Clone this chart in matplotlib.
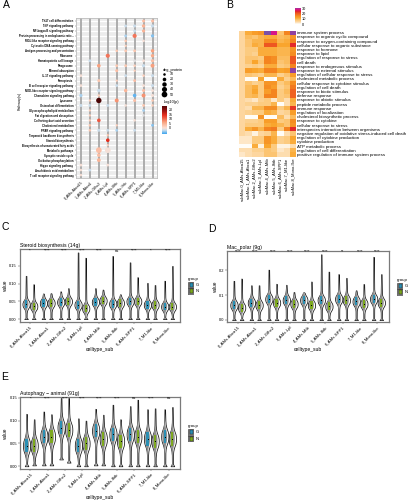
import numpy as np
import matplotlib
matplotlib.use('Agg')
import matplotlib.pyplot as plt
from matplotlib.colors import LinearSegmentedColormap
from matplotlib.patches import Rectangle

plt.rcParams['font.family'] = ['Liberation Sans', 'DejaVu Sans']

W, H = 409, 500

celltypes = ['0_AMs-Abca15', '1_AMs-Abca1', '2_AMs-Gfhc2', '3_AMs-Lpl', '4_AMs-Mtb',
             '5_AMs-Ifitb', '6_AMs-SPP1', '7_M1-like', '8_Mono-like']
sub_labels = ['subMac.' + c for c in celltypes]

pathways = ['Th17 cell differentiation', 'TNF signaling pathway', 'NF-kappa B signaling pathway',
            'Protein processing in endoplasmic retic...', 'RIG-I-like receptor signaling pathway',
            'Cytosolic DNA-sensing pathway', 'Antigen processing and presentation', 'Ribosome',
            'Hematopoietic cell lineage', 'Phagosome', 'Mineral absorption', 'IL-17 signaling pathway',
            'Ferroptosis', 'B cell receptor signaling pathway', 'NOD-like receptor signaling pathway',
            'Chemokine signaling pathway', 'Lysosome', 'Osteoclast differentiation',
            'Glycerophospholipid metabolism', 'Fat digestion and absorption',
            'Collecting duct acid secretion', 'Cholesterol metabolism', 'PPAR signaling pathway',
            'Terpenoid backbone biosynthesis', 'Steroid biosynthesis',
            'Biosynthesis of unsaturated fatty acids', 'Metabolic pathways', 'Synaptic vesicle cycle',
            'Oxidative phosphorylation', 'Hippo signaling pathway', 'Arachidonic acid metabolism',
            'T cell receptor signaling pathway']

# dots: pathway row, celltype col, gene count, signed -log10(p)
dot_row = [0, 0, 1, 1, 1, 1, 2, 2, 3, 3, 3, 4, 4, 5, 6, 6, 6, 6, 7, 7, 8, 8, 8, 8, 9, 9, 9, 9, 9, 9,
           10, 10, 11, 11, 11, 11, 12, 12, 12, 13, 13, 13, 13, 14, 14, 14, 14, 15, 15, 15, 15, 15,
           16, 16, 16, 16, 16, 17, 17, 17, 17, 17, 17, 18, 18, 19, 19, 20, 20, 20, 21, 21, 21,
           22, 22, 22, 22, 22, 23, 24, 25, 26, 26, 27, 28, 29, 29, 30, 30, 31]
dot_col = [7, 8, 5, 6, 7, 8, 6, 7, 5, 6, 8, 5, 7, 5, 4, 5, 6, 8, 3, 8, 1, 6, 7, 8, 2, 4, 5, 6, 7, 8,
           4, 6, 0, 5, 7, 8, 2, 4, 6, 0, 4, 7, 8, 2, 5, 7, 8, 0, 2, 6, 7, 8,
           1, 2, 4, 6, 8, 0, 1, 3, 5, 7, 8, 1, 7, 1, 7, 1, 2, 6, 1, 4, 8,
           1, 2, 3, 4, 6, 3, 3, 3, 2, 3, 2, 2, 0, 3, 0, 1, 0]
dot_size = [14, 14, 12, 14, 18, 16, 12, 16, 12, 26, 16, 10, 10, 8, 10, 12, 12, 18, 26, 18, 12, 12, 12, 16,
            20, 12, 12, 10, 16, 24, 14, 8, 12, 12, 10, 14, 14, 8, 12, 12, 12, 12, 14, 18, 18, 14, 12,
            16, 10, 20, 24, 14, 8, 44, 24, 14, 10, 14, 12, 12, 10, 12, 10, 8, 12, 8, 10, 8, 20, 10,
            10, 8, 12, 10, 14, 12, 12, 12, 8, 20, 8, 50, 50, 20, 22, 12, 12, 10, 12, 10]
dot_val = [3, 3, -3, -3, 4, -3, -3, 4, -4, 9, -5, 2, -1, 1, 2, 2, 2, 6, 9, 5, -3, -2, -1, 3,
           6, 2, 2, 1, -3, 6, 3, 1, -1, -3, 1, -3, 2, 1, 3, -1, -3, -1, -3, -3, 4, 3, -1,
           -4, 1, -6, 7, -1, 1, 25, 7, 3, 2, -3, -3, -3, -1, 2, 1, 1, -4, 1, -2, 1, 11, -1,
           2, 1, -5, 2, -3, -3, -4, -3, 2, 14, 1, 3, -1, 3, 4, -1, -1, -1, -3, -1]
size_levels = [10, 20, 30, 40, 50]

go_terms = ['immune system process', 'response to organic cyclic compound',
            'response to oxygen-containing compound', 'cellular response to organic substance',
            'response to hormone', 'response to lipid', 'regulation of response to stress', 'cell death',
            'response to endogenous stimulus', 'response to external stimulus',
            'regulation of cellular response to stress', 'cholesterol metabolic process',
            'cellular response to cytokine stimulus', 'regulation of cell death',
            'response to biotic stimulus', 'defense response', 'response to abiotic stimulus',
            'peptide metabolic process', 'immune response', 'regulation of localization',
            'cholesterol biosynthetic process', 'response to cytokine', 'cellular response to stress',
            'interspecies interaction between organisms',
            'negative regulation of oxidative stress-induced cell death',
            'regulation of cytokine production', 'cytokine production', 'ATP metabolic process',
            'regulation of cell differentiation', 'positive regulation of immune system process']
go_values = [[4, 10, 12, 13, 30, 26, 7, 15, 29],
             [4, 8, 7, 9, 10, 10, 8, 9, 13],
             [4, 7, 9, 9, 14, 14, 9, 10, 15],
             [4, 7, 10, 9, 19, 19, 11, 11, 22],
             [4, 6, 6, 10, 10, 10, 9, 9, 13],
             [4, 6, 5, 10, 10, 10, 9, 9, 14],
             [4, 7, 7, 6, 15, 14, 8, 8, 19],
             [4, 7, 11, 7, 15, 14, 7, 8, 19],
             [4, 5, 6, 5, 10, 10, 6, 7, 15],
             [4, 12, 11, 10, 15, 15, 11, 12, 29],
             [4, 7, 6, 5, 9, 9, 5, 7, 12],
             [4, 0, 0, 11, 0, 0, 10, 5, 8],
             [4, 7, 5, 6, 13, 13, 6, 8, 14],
             [4, 8, 10, 6, 14, 12, 5, 7, 16],
             [4, 8, 11, 6, 12, 15, 6, 8, 18],
             [4, 8, 9, 6, 15, 15, 6, 7, 18],
             [4, 3, 2, 5, 6, 2, 6, 3, 10],
             [4, 5, 5, 6, 6, 9, 0, 3, 9],
             [4, 3, 9, 9, 14, 14, 6, 9, 21],
             [4, 5, 6, 6, 10, 9, 4, 5, 12],
             [4, 0, 0, 13, 0, 0, 8, 3, 8],
             [4, 5, 5, 6, 12, 12, 6, 7, 14],
             [4, 6, 6, 6, 10, 11, 9, 7, 13],
             [4, 10, 13, 9, 15, 16, 6, 15, 22],
             [4, 3, 1, 4, 5, 9, 0, 3, 7],
             [2, 2, 6, 6, 13, 10, 5, 6, 11],
             [2, 2, 6, 6, 13, 10, 5, 6, 10],
             [0, 0, 10, 1, 11, 6, 1, 1, 3],
             [3, 3, 5, 5, 7, 6, 2, 3, 9],
             [2, 3, 4, 4, 7, 7, 3, 3, 10]]

# violins: G then N for every celltype
c_top = [.122, .098, .072, .073, .078, .087, .188, .173, .087, .083, .178, .07, .16, .118, .102, .096, .108, .15]
c_med = [.042, .036, .045, .045, .048, .05, .04, .03, .048, .052, .043, .045, .05, .05, .04, .04, .035, .035]
c_bot = [0] * 18
c_sig = ['*', '****', '****', '****', '****', 'ns', '****', '*', '****']

d_top = [.158, .167, .14, .14, .203, .146, .142, .113, .112, .155, .265, .195, .185, .17, .12, .145, .255, .185]
d_med = [.06, .05, .07, .06, .085, .07, .08, .065, .08, .06, .08, .055, .085, .08, .075, .065, .085, .07]
d_bot = [0] * 18
d_sig = ['****', '****', '****', '****', '****', '****', '**', '****', '****']

e_top = [.115, .103, .12, .114, .15, .15, .105, .1, .126, .113, .135, .103, .132, .146, .125, .127, .125, .13]
e_med = [.045, .045, .065, .065, .085, .08, .045, .05, .078, .06, .07, .055, .07, .065, .06, .055, .065, .06]
e_bot = [0, .002, .002, .002, .015, .008, 0, 0, .002, .002, 0, 0, 0, 0, 0, 0, 0, 0]
e_sig = ['*', '****', '****', '****', '****', '****', 'ns', '****', 'ns']

group_colors = ['#2b8fb3', '#7da81f']

# width of the violin going away from the median, in steps of the panel's spread
bulge_steps = [0, .5, 1, 1.5, 2, 2.6, 3.4]
bulge_width = [1, .97, .85, .62, .4, .24, .16]


def px_axes(x0, y0, x1, y1):
    return fig.add_axes([x0 / W, 1 - y1 / H, (x1 - x0) / W, (y1 - y0) / H])


def violin(ax, x, bot, med, top, spread, half, color):
    up = [med + s * spread for s in bulge_steps if med + s * spread < top]
    dn = [med - s * spread for s in bulge_steps if med - s * spread > bot]
    ys = np.array(dn[::-1] + up[1:] + [top])
    ws = np.array(bulge_width[:len(dn)][::-1] + bulge_width[1:len(up)] + [.08])
    ys = np.concatenate([[bot, bot + spread * .5], ys])
    ws = np.concatenate([[.5, .14], ws])
    ax.fill_betweenx(ys, x - ws * half, x + ws * half, fc='white', ec='#111111', lw=.55, zorder=2)
    ax.fill_betweenx(ys, x - ws * half * .66, x + ws * half * .66, fc='#8f8f8f', ec='none', zorder=3)
    ax.add_patch(Rectangle((x - half * .3, med - spread * 1.4), half * .6, spread * 2.8,
                           fc=color, ec='none', zorder=4))
    ax.plot([x], [med], 's', ms=.7, mew=0, color='black', zorder=5)


def violin_panel(box, tops, meds, bots, sigs, title, yticks, ylabels, ylim, spread, sig_y, label_y):
    ax = px_axes(*box)
    for i in range(9):
        for g in range(2):
            j = 2 * i + g
            violin(ax, i - .22 + .44 * g, bots[j], meds[j], tops[j], spread, .21, group_colors[g])
        ax.text(i, sig_y, sigs[i], ha='center', va='center', fontsize=3, zorder=6)
    ax.set_xlim(-.6, 8.66)
    ax.set_ylim(*ylim)
    ax.set_xticks(range(9))
    ax.set_xticklabels(celltypes, rotation=45, ha='right', rotation_mode='anchor', fontsize=3.1)
    ax.set_yticks(yticks)
    ax.set_yticklabels(ylabels, fontsize=2.9)
    ax.tick_params(length=1.2, width=.3, pad=.8, color='#333333')
    for s in ax.spines.values():
        s.set_color('#7a7a7a')
        s.set_linewidth(.9)
    ax.set_title(title, loc='left', fontsize=3.7, pad=1.5)
    ax.set_ylabel('value', fontsize=3.4, labelpad=1)
    fig.text((box[0] + box[2]) / 2 / W, 1 - label_y / H, 'celltype_sub', ha='center', va='center', fontsize=3.6)
    # group key
    lx = box[2] + 8
    ly = (box[1] + box[3]) / 2 - 7
    fig.text(lx / W, 1 - ly / H, 'group', fontsize=3.2, va='center')
    kx = px_axes(lx, ly + 3, lx + 6, ly + 16)
    kx.set_xlim(0, 1)
    kx.set_ylim(2, 0)
    kx.axis('off')
    for k, name in enumerate(['G', 'N']):
        kx.add_patch(Rectangle((0, k), 1, 1, fc='#777777', ec='#333333', lw=.4))
        kx.add_patch(Rectangle((.25, k + .2), .5, .6, fc=group_colors[k], ec='black', lw=.2))
        fig.text((lx + 8) / W, 1 - (ly + 3 + 6.5 * k + 3.2) / H, name, fontsize=3, va='center')
    return ax


fig = plt.figure(figsize=(W / 100, H / 100), dpi=100)

# A: pathway dot plot
ax = px_axes(76, 18, 157, 178)
ax.set_facecolor('#ececec')
ax.set_xlim(-.55, 8.5)
ax.set_ylim(31.6, -.6)
for i in range(32):
    ax.axhline(i, color='white', lw=.9, zorder=1)
for i in range(9):
    ax.axvline(i, color='#a8a8a8', lw=1.3, zorder=2)
dot_cmap = LinearSegmentedColormap.from_list(
    'dots', [(0, '#3ea6f0'), (.12, '#c6dcec'), (.2, '#fde0d2'), (.4, '#f9a582'),
             (.65, '#e8301f'), (.85, '#8c1010'), (1, '#4a0505')])
ax.scatter(dot_col, dot_row, s=[z * .34 for z in dot_size], c=dot_val, cmap=dot_cmap, vmin=-7, vmax=25,
           lw=0, zorder=3)
ax.set_xticks(range(9))
ax.set_xticklabels(celltypes, rotation=45, ha='right', rotation_mode='anchor', fontsize=2.6)
ax.set_yticks(range(32))
ax.set_yticklabels(pathways, fontsize=1.95, fontweight='bold')
ax.tick_params(length=1, width=.3, pad=.8, color='#555555')
for s in ax.spines.values():
    s.set_color('#bdbdbd')
    s.set_linewidth(.6)
fig.text(20 / W, 1 - 101 / H, 'Pathway(s)', fontsize=2.6, rotation=90, ha='center', va='center')

# dot size legend
lg = px_axes(160, 72, 169, 97)
lg.set_xlim(0, 1)
lg.set_ylim(4.5, -.5)
lg.axis('off')
lg.scatter([.5] * 5, range(5), s=[z * .34 for z in size_levels], color='black', lw=0, clip_on=False)
for k, v in enumerate(size_levels):
    lg.text(1.05, k, str(v), fontsize=2.6, va='center')
fig.text(163 / W, 1 - 70 / H, 'deg_protein', fontsize=2.8, va='center')

# dot colorbar
cb = px_axes(162, 105.5, 167, 134)
cb.imshow(np.linspace(25, -7, 64)[:, None], cmap=dot_cmap, vmin=-7, vmax=25, aspect='auto',
          extent=[0, 1, -7, 25])
cb.set_xticks([])
cb.yaxis.tick_right()
cb.set_yticks([0, 5, 10, 15, 20])
cb.set_yticklabels(['0', '5', '10', '15', '20'], fontsize=2.6)
cb.tick_params(length=0, pad=1)
for s in cb.spines.values():
    s.set_visible(False)
fig.text(164 / W, 1 - 102 / H, '-log10(p)', fontsize=2.8, va='center')

# B: GO heatmap
heat_cmap = LinearSegmentedColormap.from_list(
    'go', [(0, '#fffdf8'), (.1, '#fddcae'), (.22, '#fcc777'), (.36, '#f9a62d'), (.5, '#f4851f'),
           (.67, '#ec4a22'), (.75, '#e0202c'), (.87, '#d5168c'), (1, '#7a4fa6')])
ax = px_axes(238.7, 30.7, 296.3, 156.7)
ax.pcolormesh(np.array(go_values), cmap=heat_cmap, vmin=0, vmax=30)
ax.set_ylim(30, 0)
ax.set_xticks(np.arange(9) + .5)
ax.set_xticklabels(sub_labels, rotation=90, fontsize=3)
ax.yaxis.tick_right()
ax.set_yticks(np.arange(30) + .5)
ax.set_yticklabels(go_terms, fontsize=3.2)
ax.tick_params(length=0, pad=.6)
for s in ax.spines.values():
    s.set_visible(False)

cb = px_axes(295, 8.3, 300.3, 24.3)
cb.imshow(np.linspace(30, 0, 64)[:, None], cmap=heat_cmap, vmin=0, vmax=30, aspect='auto',
          extent=[0, 1, 0, 30])
cb.set_xticks([])
cb.yaxis.tick_right()
cb.set_yticks([0, 10, 20, 30])
cb.set_yticklabels(['0', '10', '20', '30'], fontsize=2.8)
cb.tick_params(length=0, pad=.8)
for s in cb.spines.values():
    s.set_visible(False)

# C, D, E: violins
violin_panel((19.5, 249, 180, 322.3), c_top, c_med, c_bot, c_sig, 'Steroid biosynthesis (14g)',
             [0, .05, .10, .15], ['0.00', '0.05', '0.10', '0.15'], (-.0093, .198), .0075, .193, 349)
violin_panel((227.3, 250.7, 389, 322.3), d_top, d_med, d_bot, d_sig, 'Mac_polar (9g)',
             [0, .1, .2], ['0.0', '0.1', '0.2'], (-.0093, .280), .0115, .275, 350)
violin_panel((20, 397.3, 180, 469), e_top, e_med, e_bot, e_sig, 'Autophagy − animal (91g)',
             [0, .05, .10, .15], ['0.00', '0.05', '0.10', '0.15'], (-.0061, .1515), .0105, .149, 497)

for letter, x, y in [('A', 3, 5), ('B', 226, 5), ('C', 1, 227), ('D', 208, 229), ('E', 1, 377)]:
    fig.text(x / W, 1 - y / H, letter, fontsize=7.5, va='center')

fig.savefig('out.png', dpi=100)
